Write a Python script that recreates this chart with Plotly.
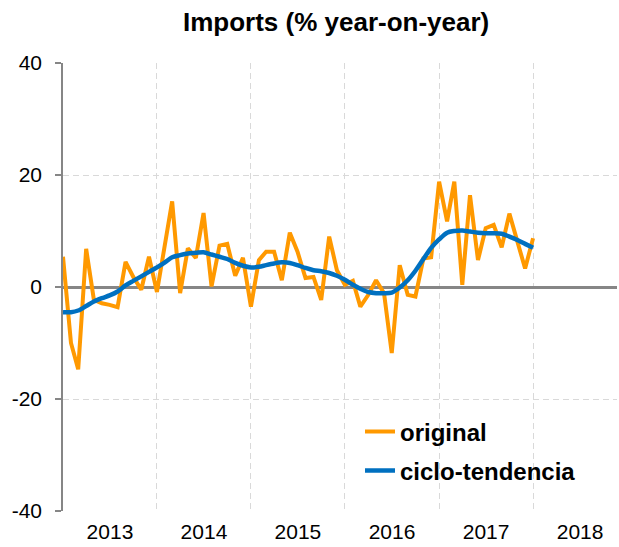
import pandas as pd
import plotly.graph_objects as go

# Monthly data, Jan 2013 .. Jan 2018
months = pd.date_range("2013-01-01", periods=61, freq="MS")

original = [5.4, -10.0, -14.7, 6.8, -2.3, -2.9, -3.2, -3.6, 4.5, 1.8, -0.5, 5.4,
            -0.9, 7.3, 15.3, -1.1, 6.9, 5.2, 13.2, 0.1, 7.4, 7.7, 2.0, 5.2,
            -3.5, 4.8, 6.3, 6.3, 1.2, 9.7, 6.3, 1.6, 1.8, -2.3, 9.0, 3.0,
            0.4, 1.1, -3.5, -1.4, 1.2, -1.1, -11.8, 3.9, -1.4, -1.7, 5.1, 5.3,
            18.8, 11.7, 18.8, 0.4, 16.4, 4.8, 10.5, 11.1, 7.1, 13.1, 8.1, 3.3,
            8.7]

trend = [-4.5, -4.5, -4.2, -3.4, -2.6, -2.0, -1.5, -0.8, 0.3, 1.1, 1.9, 2.7,
         3.5, 4.4, 5.3, 5.7, 6.0, 6.1, 6.2, 5.8, 5.4, 5.0, 4.3, 3.8,
         3.5, 3.6, 3.9, 4.2, 4.4, 4.3, 3.9, 3.4, 3.0, 2.8, 2.5, 2.0,
         1.3, 0.4, -0.3, -0.9, -1.1, -1.1, -1.0, -0.1, 1.2, 2.9, 5.0, 7.0,
         8.5, 9.7, 10.0, 10.1, 9.9, 9.7, 9.6, 9.6, 9.5, 9.0, 8.4, 7.7,
         7.0]

year_starts = ["2013-01-01", "2014-01-01", "2015-01-01", "2016-01-01",
               "2017-01-01", "2018-01-01"]
x_range = ["2013-01-01", "2018-11-23"]
y_ticks = [-40, -20, 0, 20, 40]
y_ticktext = ["-40", "-20", "0", "20", "40"]

FONT = "Liberation Sans, Arial, sans-serif"
AXIS_GREY = "#868686"
GRID_GREY = "#D9D9D9"

fig = go.Figure()
fig.add_trace(go.Scatter(
    x=months, y=original, mode="lines", name="original", showlegend=True,
    line=dict(color="#FF9900", width=4), legend="legend"))
fig.add_trace(go.Scatter(
    x=months, y=trend, mode="lines", name="ciclo-tendencia", showlegend=True,
    line=dict(color="#0070C0", width=4.5, shape="spline", smoothing=0.8),
    legend="legend2"))

legend_common = dict(xanchor="left", yanchor="middle", bgcolor="rgba(0,0,0,0)",
                     font=dict(family=FONT, size=24, color="black", weight="bold"))

fig.update_layout(
    width=619, height=547,
    showlegend=True,
    margin=dict(l=63, r=2, t=63, b=36),
    paper_bgcolor="white", plot_bgcolor="white",
    font=dict(family=FONT, color="black"),
    title=dict(text="<b>Imports (% year-on-year)</b>",
               font=dict(family=FONT, size=26, color="black"),
               x=0.493, xref="paper", xanchor="center",
               y=1 - 22 / 547, yref="container", yanchor="middle"),
    xaxis=dict(type="date", range=x_range, tick0="2013-01-01", dtick="M12",
               tickformat="%Y", ticklabelmode="period",
               showgrid=True, gridcolor=GRID_GREY, griddash="6px,4px",
               gridwidth=1, ticks="", showline=False, zeroline=False,
               tickfont=dict(size=21, color="black"), ticklabelstandoff=6),
    xaxis2=dict(type="date", range=x_range, overlaying="x", anchor="free",
                position=0.5, tickmode="array", tickvals=year_starts,
                ticks="outside", ticklen=6, tickwidth=2.5, tickcolor=AXIS_GREY,
                showticklabels=False, showgrid=False, showline=False,
                zeroline=False),
    xaxis3=dict(type="date", range=x_range, overlaying="x", anchor="free",
                position=0.5, tickmode="array", tickvals=year_starts,
                ticks="inside", ticklen=6, tickwidth=2.5, tickcolor=AXIS_GREY,
                showticklabels=False, showgrid=False, showline=False,
                zeroline=False),
    yaxis=dict(range=[-40, 40], tickmode="array", tickvals=y_ticks,
               ticktext=y_ticktext,
               showline=True, linecolor=AXIS_GREY, linewidth=1.5,
               ticks="outside", ticklen=6, tickwidth=1.5, tickcolor=AXIS_GREY,
               showgrid=True, gridcolor=GRID_GREY, griddash="6px,4px",
               gridwidth=1,
               zeroline=True, zerolinecolor=AXIS_GREY, zerolinewidth=2.5,
               tickfont=dict(size=21, color="black"), ticklabelstandoff=9),
    yaxis2=dict(range=[-40, 40], overlaying="y", side="left", anchor="x",
                tickmode="array", tickvals=y_ticks, ticks="inside", ticklen=6,
                tickwidth=1.5, tickcolor=AXIS_GREY, showticklabels=False,
                showgrid=False, zeroline=False, showline=False),
    legend=dict(x=(360 - 63) / 554, y=(511 - 432) / 448, **legend_common),
    legend2=dict(x=(360 - 63) / 554, y=(511 - 471) / 448, **legend_common),
)

fig.write_html("out.html",
               config={"displayModeBar": False},
               post_script="document.body.style.margin='0';"
                           "document.body.style.overflow='hidden';")
